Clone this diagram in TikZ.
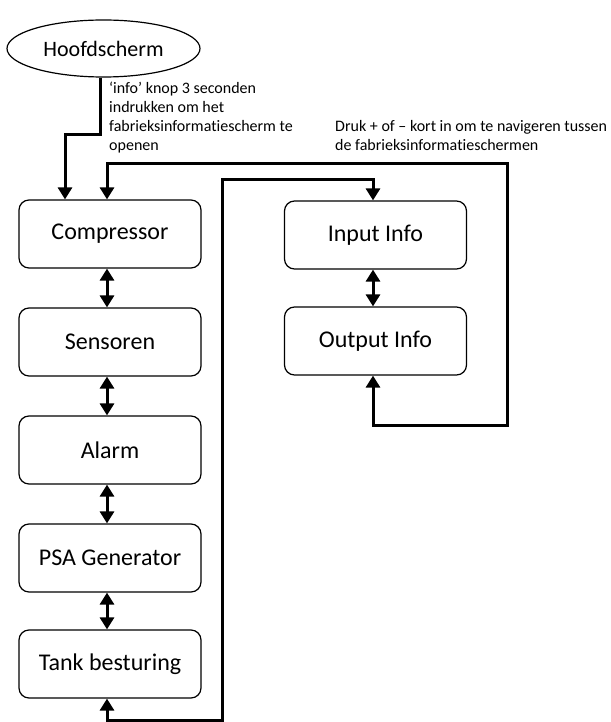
\documentclass[tikz,border=0pt]{standalone}
\usepackage{fontspec}
\setmainfont{Carlito}[Ligatures=NoCommon]
\usetikzlibrary{arrows.meta,shapes.geometric}
\begin{document}
\begin{tikzpicture}[x=1pt,y=-1pt,
  screen/.style={draw, rounded corners=10pt, minimum width=182pt, minimum height=68pt,
    line width=1.2pt, inner sep=0pt, font=\fontsize{24}{28}\selectfont},
  start/.style={draw, ellipse, minimum width=193pt, minimum height=57pt, inner sep=0pt,
    line width=1.2pt, font=\fontsize{22}{26}\selectfont},
  conn/.style={line width=3pt, -{Triangle[width=14pt,length=12pt]}},
  both/.style={line width=3pt, {Triangle[width=14pt,length=12pt]}-{Triangle[width=14pt,length=12pt]}},
  note/.style={align=left, inner sep=0pt, anchor=north west, font=\fontsize{16}{19}\selectfont}]
\useasboundingbox (0,0) rectangle (610,722);

% main screen and the menu screens
\node[start] (hoofd) at (103.5,48.5) {Hoofdscherm};
\node[screen] (comp)  at (110,234) {Compressor};
\node[screen] (sens)  at (110,342) {Sensoren};
\node[screen] (alarm) at (110,450) {Alarm};
\node[screen] (psa)   at (110,558) {PSA Generator};
\node[screen] (tank)  at (110,664) {Tank besturing};
\node[screen] (input)  at (375.5,235) {Input Info};
\node[screen] (output) at (375.5,341) {Output Info};

% notes
\node[note] (n1) at (109,82) {‘info’ knop 3 seconden\\indrukken om het\\fabrieksinformatiescherm te\\openen};
\node[note] (n2) at (335,120) {Druk + of – kort in om te navigeren tussen\\de fabrieksinformatieschermen};

% helper coordinates for the routed connectors
\coordinate (xa) at (100,135);
\coordinate (xb) at (65,135);
\coordinate (xl) at (107,0);
\coordinate (xr) at (373,0);
\coordinate (c1) at (507,164);
\coordinate (c2) at (507,425);
\coordinate (c3) at (222,720);
\coordinate (c4) at (222,180);

% entry from the main screen
\draw[conn] (hoofd.south -| xa) -- (xa) -- (xb) -- (comp.north -| xb);

% neighbours in the left column
\draw[both] (comp.south -| xl) -- (sens.north -| xl);
\draw[both] (sens.south -| xl) -- (alarm.north -| xl);
\draw[both] (alarm.south -| xl) -- (psa.north -| xl);
\draw[both] (psa.south -| xl) -- (tank.north -| xl);
\draw[both] (input.south -| xr) -- (output.north -| xr);

% wrap-around connections
\draw[both] (output.south -| xr) -- (c2 -| xr) -- (c2) -- (c1) -- (c1 -| xl) -- (comp.north -| xl);
\draw[both] (tank.south -| xl) -- (c3 -| xl) -- (c3) -- (c4) -- (c4 -| xr) -- (input.north -| xr);
\end{tikzpicture}
\end{document}
